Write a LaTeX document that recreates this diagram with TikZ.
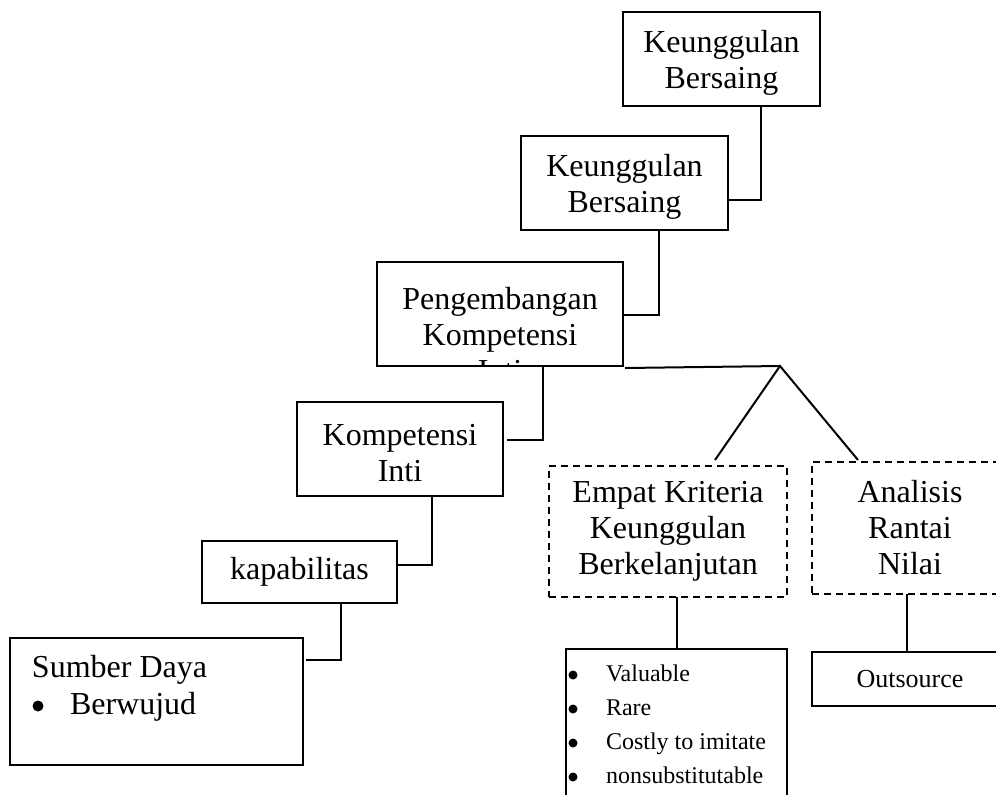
\documentclass[tikz,border=0pt]{standalone}
\usepackage{fontspec}
\setmainfont{Liberation Serif}
\newcommand{\bigtxt}{\fontsize{16}{18}\selectfont}
\newcommand{\listtxt}{\fontsize{12}{17}\selectfont}
\newcommand{\outtxt}{\fontsize{13}{15}\selectfont}
\newcommand{\kbstrut}{\rule{0pt}{14.5pt}}
\tikzset{
	box/.style={draw, line width=1pt, inner sep=0pt, outer sep=0pt, align=center, font=\bigtxt},
	dbox/.style={box, dash pattern=on 3.5pt off 2.5pt},
	txt/.style={inner sep=0pt, outer sep=0pt, anchor=base west},
	dot/.style={circle, fill, inner sep=0pt},
	link/.style={line width=1pt},
}
\begin{document}
\begin{tikzpicture}[x=0.5pt, y=-0.5pt]
		\useasboundingbox (0,0) rectangle (996,794);
		\clip (0,0) rectangle (996,794);
		
		% left chain of boxes
		\node[box, minimum width=98.5pt, minimum height=47pt] (kb1) at (721.5,59) {\kbstrut Keunggulan\\Bersaing};
		\node[box, minimum width=103.5pt, minimum height=47pt] (kb2) at (624.5,183) {\kbstrut Keunggulan\\Bersaing};
		\node[box, minimum width=123pt, minimum height=52pt,
			path picture={\node[font=\bigtxt, align=center, anchor=north] at ([yshift=-10.5pt]path picture bounding box.north) {Pengembangan\\Kompetensi\\Inti};}] (pkb) at (500,314) {};
		\node[box, minimum width=103pt, minimum height=47pt] (ki) at (400,449) {\kbstrut Kompetensi\\Inti};
		\node[box, minimum width=97.5pt, minimum height=31pt] (kap) at (299.5,572) {kapabilitas};
		\node[box, minimum width=146.5pt, minimum height=63.5pt] (sd) at (156.5,701.5) {};
		\node[txt, font=\bigtxt] (sdt) at (32,677) {Sumber Daya};
		\node[dot, minimum size=5.5pt] (sdb) at (38,706) {};
		\node[txt, font=\bigtxt] (sdw) at (70,714) {Berwujud};
		
		% right branch
		\node[dbox, minimum width=119pt, minimum height=65.5pt] (ek) at (668,531.5) {Empat Kriteria\\Keunggulan\\Berkelanjutan};
		\node[dbox, minimum width=98pt, minimum height=66pt] (ar) at (910,528) {Analisis\\Rantai\\Nilai};
		\node[box, minimum width=110.5pt, minimum height=85.5pt] (crit) at (676.5,734.5) {};
		\foreach \item [count=\i] in {Valuable, Rare, Costly to imitate, nonsubstitutable} {
			\node[dot, minimum size=4.5pt] (bul\i) at (573,641+34*\i) {};
			\node[txt, font=\listtxt] (itm\i) at (606,647+34*\i) {\item};
		}
		\node[box, font=\outtxt, minimum width=98pt, minimum height=27pt] (out) at (910,679) {Outsource};
		
		% connectors
		\draw[link] (kb1.south -| 761,0) |- (kb2.east |- 0,200);
		\draw[link] (kb2.south -| 659,0) |- (pkb.east |- 0,315);
		\draw[link] (pkb.south -| 543,0) |- ([xshift=2pt]ki.east |- 0,440);
		\draw[link] (ki.south -| 432,0) |- (kap.east |- 0,565);
		\draw[link] (kap.south -| 341,0) |- ([xshift=1.5pt]sd.east |- 0,660);
		
		\coordinate (apex) at (780,366);
		\coordinate (ektop) at (715,460);
		\coordinate (artop) at (858,460);
		\draw[link] ([xshift=1pt,yshift=-1pt]pkb.south east) -- (apex);
		\draw[link] (ektop) -- (apex) -- (artop);
		\draw[link] (ek.south -| 677,0) -- (crit.north -| 677,0);
		\draw[link] (ar.south -| 907,0) -- (out.north -| 907,0);
	\end{tikzpicture}
\end{document}
